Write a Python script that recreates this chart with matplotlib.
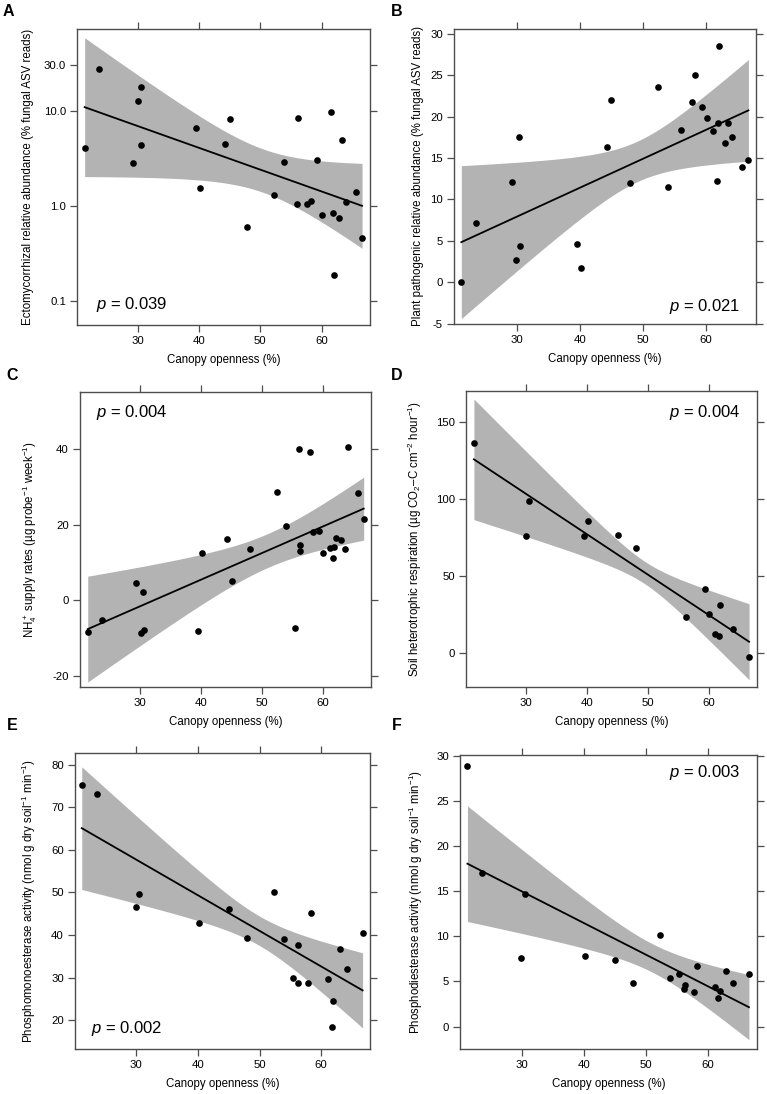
import numpy as np
import matplotlib
matplotlib.use('Agg')
import matplotlib.pyplot as plt

plt.rcParams['font.family'] = ['Liberation Sans', 'DejaVu Sans']
plt.rcParams['mathtext.fontset'] = 'custom'
plt.rcParams['mathtext.rm'] = 'Liberation Sans'
plt.rcParams['mathtext.it'] = 'Liberation Sans:italic'
plt.rcParams['mathtext.bf'] = 'Liberation Sans:bold'
plt.rcParams['axes.unicode_minus'] = False

# Panel A: ectomycorrhizal relative abundance (log scale)
xA = [21.35, 23.7, 29.3, 30.0, 30.5, 30.6, 39.5, 40.2, 44.3, 45.0, 47.9, 52.3, 53.8, 56.05,
      56.2, 57.7, 58.2, 59.3, 60.0, 61.6, 61.8, 62.0, 62.9, 63.4, 64.0, 65.6, 66.6]
yA = [4.11, 27.2, 2.81, 12.6, 17.8, 4.39, 6.52, 1.53, 4.49, 8.17, 0.60, 1.31, 2.90, 1.06,
      8.44, 1.06, 1.14, 3.07, 0.81, 9.6, 0.85, 0.19, 0.74, 4.91, 1.09, 1.40, 0.46]

# Panel B: plant pathogenic relative abundance
xB = [21.26, 23.6, 29.26, 29.95, 30.4, 30.6, 39.5, 40.2, 44.3, 45.0, 48.0, 52.4, 53.9, 56.1,
      57.8, 58.3, 59.4, 60.1, 61.1, 61.7, 61.9, 62.1, 63.0, 63.5, 64.1, 65.7, 66.7]
yB = [0.0, 7.1, 12.1, 2.74, 17.6, 4.4, 4.6, 1.77, 16.4, 22.0, 12.0, 23.6, 11.5, 18.4,
      21.8, 25.0, 21.2, 19.8, 18.3, 12.2, 19.2, 28.6, 16.8, 19.2, 17.6, 13.9, 14.8]

# Panel C: NH4+ supply rates
xC = [21.37, 23.7, 29.3, 30.05, 30.5, 30.65, 39.5, 40.2, 44.3, 45.0, 48.0, 52.4, 53.9, 55.4, 56.1,
      56.2, 56.3, 57.8, 58.3, 59.4, 60.05, 61.1, 61.6, 61.9, 62.1, 62.95, 63.55, 64.1, 65.7, 66.7]
yC = [-8.3, -5.3, 4.5, -8.5, 2.3, -7.8, -8.1, 12.5, 16.3, 5.1, 13.5, 28.6, 19.6, -7.3, 40.1,
      14.6, 13.0, 39.3, 18.0, 18.4, 12.5, 13.9, 11.1, 14.2, 16.6, 15.9, 13.5, 40.5, 28.3, 21.4]

# Panel D: soil heterotrophic respiration
xD = [21.4, 30.0, 30.5, 39.5, 40.2, 45.0, 48.0, 56.2, 59.3, 60.05, 61.0, 61.7, 61.8, 64.0, 66.6]
yD = [136.2, 75.8, 98.9, 76.2, 85.5, 76.6, 68.2, 23.5, 41.7, 25.3, 12.5, 11.2, 31.3, 15.5, -2.4]

# Panel E: phosphomonoesterase activity
xE = [21.2, 23.7, 29.95, 30.5, 40.2, 45.0, 48.0, 52.35, 53.9, 55.4, 56.2, 56.3, 57.8, 58.3,
      61.1, 61.7, 61.9, 63.0, 64.1, 66.7]
yE = [75.1, 73.0, 46.5, 49.7, 42.7, 46.0, 39.2, 50.0, 39.1, 29.8, 28.75, 37.6, 28.75, 45.1,
      29.7, 18.4, 24.6, 36.7, 32.0, 40.4]

# Panel F: phosphodiesterase activity
xF = [21.3, 23.7, 29.95, 30.5, 40.2, 45.0, 48.0, 52.35, 53.85, 55.4, 56.15, 56.25, 57.75, 58.2,
      61.07, 61.66, 61.87, 62.94, 64.06, 66.6]
yF = [28.9, 17.05, 7.56, 14.7, 7.86, 7.34, 4.8, 10.2, 5.39, 5.79, 4.17, 4.58, 3.87, 6.72,
      4.35, 3.14, 3.95, 6.13, 4.8, 5.83]

# 95% CI half-widths (A in log10 units)
ciA_x, ciA_h = [21.35, 44.3, 50.5, 66.6], [0.73, 0.27, 0.23, 0.446]
ciB_x, ciB_h = [21.26, 44.3, 49.0, 66.7], [9.24, 3.0, 2.3, 6.15]
ciC_x, ciC_h = [21.37, 40.2, 53.9, 66.7], [13.97, 6.8, 4.3, 8.4]
ciD_x, ciD_h = [21.4, 30.0, 50.0, 66.6], [39.1, 27.5, 7.5, 24.6]
ciE_x, ciE_h = [21.2, 40.2, 50.0, 66.7], [14.4, 5.8, 3.6, 8.8]
ciF_x, ciF_h = [21.3, 45.0, 51.0, 66.6], [6.4, 2.0, 1.6, 3.6]

pvals = {'A': '0.039', 'B': '0.021', 'C': '0.004', 'D': '0.004', 'E': '0.002', 'F': '0.003'}

xticks = [30, 40, 50, 60]
W, H = 767, 1094
FRAME = '#4d4d4d'
BAND = '#b3b3b3'


def fit_band(x, y, ci_x, ci_h):
    x = np.asarray(x, float)
    y = np.asarray(y, float)
    b, a = np.polyfit(x, y, 1)
    xs = np.linspace(x.min(), x.max(), 200)
    fit = a + b*xs
    # CI of a linear fit is a hyperbola: half^2 is quadratic in x
    q = np.polyfit(ci_x, np.asarray(ci_h)**2, 2)
    half = np.sqrt(np.clip(np.polyval(q, xs), 0, None))
    return xs, fit, fit - half, fit + half


def make_panel(box, x, y, ci, ylim, yticks, ylabel, ylabel_x, letter, letter_xy,
               ptext_xy, p_ha, log=False, yticklabels=None):
    l, r, t, b = box
    ax = fig.add_axes([l/W, 1 - b/H, (r - l)/W, (b - t)/H])
    if log:
        xs, fit, lo, hi = fit_band(x, np.log10(y), *ci)
        fit, lo, hi = 10**fit, 10**lo, 10**hi
        ax.set_yscale('log')
    else:
        xs, fit, lo, hi = fit_band(x, y, *ci)
    ax.fill_between(xs, lo, hi, color=BAND, lw=0, zorder=1)
    ax.plot(xs, fit, color='black', lw=1.3, zorder=2)
    ax.scatter(x, y, s=23, color='black', lw=0, zorder=3)
    ax.set_xlim(20.1, 67.9)
    ax.set_ylim(*ylim)
    ax.set_xticks(xticks)
    ax.set_yticks(yticks)
    if yticklabels is not None:
        ax.set_yticklabels(yticklabels)
    ax.minorticks_off()
    ax.tick_params(direction='out', length=5, width=0.9, color=FRAME, top=True, right=True,
                   labeltop=False, labelright=False, labelsize=8.2, pad=3)
    for sp in ax.spines.values():
        sp.set_color(FRAME)
        sp.set_linewidth(1.0)
    ax.set_xlabel('Canopy openness (%)', fontsize=8.3, labelpad=6)
    ax.set_ylabel(ylabel, fontsize=8.3)
    ax.yaxis.set_label_coords((ylabel_x - l)/(r - l), 0.5)
    ax.text(ptext_xy[0], ptext_xy[1], '$p$ = ' + pvals[letter], transform=ax.transAxes,
            fontsize=12, ha=p_ha, va='center')
    fig.text(letter_xy[0]/W, 1 - letter_xy[1]/H, letter, fontsize=11.5, fontweight='bold',
             ha='left', va='center')
    return ax


fig = plt.figure(figsize=(W/100, H/100), dpi=100)

make_panel((77, 370, 29, 325), xA, yA, (ciA_x, ciA_h), (0.056, 72.4), [0.1, 1, 10, 30],
           'Ectomycorrhizal relative abundance (% fungal ASV reads)', 34, 'A', (3, 12),
           (0.065, 0.068), 'left', log=True, yticklabels=['0.1', '1.0', '10.0', '30.0'])
make_panel((454, 756, 29, 324), xB, yB, (ciB_x, ciB_h), (-5.05, 30.6),
           [-5, 0, 5, 10, 15, 20, 25, 30],
           'Plant pathogenic relative abundance (% fungal ASV reads)', 424, 'B', (391, 12),
           (0.947, 0.061), 'right')
make_panel((80, 371, 392, 687), xC, yC, (ciC_x, ciC_h), (-22.9, 55.1), [-20, 0, 20, 40],
           'NH$_4^+$ supply rates (µg probe$^{-1}$ week$^{-1}$)', 39, 'C', (6, 375),
           (0.055, 0.929), 'left')
make_panel((466, 757, 391, 687), xD, yD, (ciD_x, ciD_h), (-21.8, 169.9), [0, 50, 100, 150],
           'Soil heterotrophic respiration (µg CO$_2$–C cm$^{-2}$ hour$^{-1}$)', 424, 'D',
           (391, 376), (0.945, 0.926), 'right')
make_panel((75, 370, 753, 1048.7), xE, yE, (ciE_x, ciE_h), (13.3, 82.7),
           [20, 30, 40, 50, 60, 70, 80],
           'Phosphomonoesterase activity (nmol g dry soil$^{-1}$ min$^{-1}$)', 38, 'E', (7, 726),
           (0.054, 0.067), 'left')
make_panel((460, 757, 755, 1048.7), xF, yF, (ciF_x, ciF_h), (-2.44, 30.07),
           [0, 5, 10, 15, 20, 25, 30],
           'Phosphodiesterase activity (nmol g dry soil$^{-1}$ min$^{-1}$)', 425, 'F', (392, 726),
           (0.946, 0.939), 'right')

fig.savefig('out.png', dpi=100)
